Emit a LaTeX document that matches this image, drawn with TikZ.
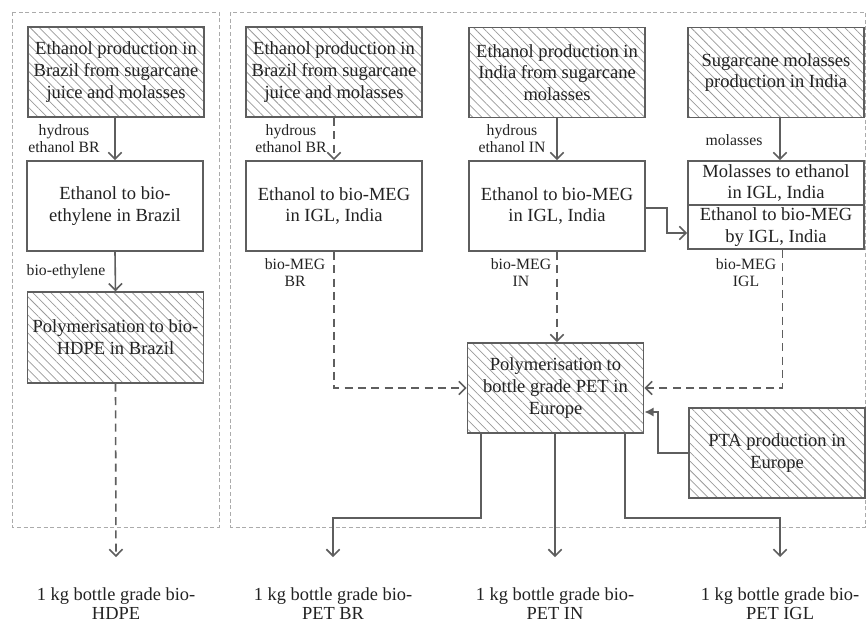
\documentclass[tikz,border=0pt]{standalone}
\usepackage{fontspec}
\setmainfont{Liberation Serif}
\usetikzlibrary{arrows.meta,patterns.meta}
\definecolor{ln}{HTML}{5E5E5E}
\definecolor{hatchc}{HTML}{9A9A9A}
\definecolor{panelc}{HTML}{ABABAB}
\definecolor{txt}{HTML}{222222}
\tikzset{
  boxbase/.style={draw=ln, line width=1.3pt, rectangle, minimum width=132pt, minimum height=67.5pt, inner sep=1pt, align=center, text=txt, font=\fontsize{13.9}{16.3}\selectfont},
  plainbox/.style={boxbase, fill=white},
  hatchbox/.style={boxbase, pattern={Lines[angle=-45,distance=4.8pt,line width=0.55pt]}, pattern color=hatchc},
  halfbox/.style={plainbox, minimum height=33pt},
  lbl/.style={align=center, text=txt, inner sep=0pt, font=\fontsize{11.8}{13}\selectfont},
  outtxt/.style={align=center, text=txt, inner sep=0pt, font=\fontsize{13.8}{14.3}\selectfont},
  panel/.style={draw=panelc, line width=0.6pt, dash pattern=on 3pt off 2pt},
  sline/.style={draw=ln, line width=1.2pt, -{Straight Barb[length=5pt,width=10pt]}},
  dline/.style={sline, dash pattern=on 6pt off 4pt},
  fline/.style={draw=ln, line width=1.2pt, -{Latex[length=7pt,width=7pt]}}
}
\begin{document}
\begin{tikzpicture}[x=0.75pt,y=-0.75pt]
\useasboundingbox (0,0) rectangle (866,622);
% panels
\draw[panel] (12,12) rectangle (219,527);
\draw[panel] (230.5,12) rectangle (865.5,527);
% left column
\node[hatchbox] (A1) at (116,72) {Ethanol production in\\Brazil from sugarcane\\juice and molasses};
\node[plainbox] (A2) at (115,206) {Ethanol to bio-\\ethylene in Brazil};
\node[hatchbox, minimum height=68pt] (A3) at (115.5,337.5) {Polymerisation to bio-\\HDPE in Brazil};
% column B
\node[hatchbox] (B1) at (334,72) {Ethanol production in\\Brazil from sugarcane\\juice and molasses};
\node[plainbox] (B2) at (334,206) {Ethanol to bio-MEG\\in IGL, India};
% column C
\node[hatchbox] (C1) at (557,72.5) {Ethanol production in\\India from sugarcane\\molasses};
\node[plainbox] (C2) at (557,206) {Ethanol to bio-MEG\\in IGL, India};
% column D
\node[hatchbox] (D1) at (776,72.5) {Sugarcane molasses\\production in India};
\node[halfbox] (D2) at (776,183) {Molasses to ethanol\\in IGL, India};
\node[halfbox] (D3) at (776,227) {Ethanol to bio-MEG\\by IGL, India};
% PET and PTA
\node[hatchbox] (P) at (555.5,388) {Polymerisation to\\bottle grade PET in\\Europe};
\node[hatchbox] (T) at (777,453) {PTA production in\\Europe};
% outputs
\node[outtxt] (o1) at (116,603.5) {1 kg bottle grade bio-\\HDPE};
\node[outtxt] (o2) at (333,603.5) {1 kg bottle grade bio-\\PET BR};
\node[outtxt] (o3) at (555,603.5) {1 kg bottle grade bio-\\PET IN};
\node[outtxt] (o4) at (780,603.5) {1 kg bottle grade bio-\\PET IGL};
\coordinate (e1) at (116,557);
\coordinate (e2) at (333,557);
\coordinate (e3) at (555,557);
\coordinate (e4) at (780,557);
% labels
\node[lbl] (l1) at (64,138.5) {hydrous\\ethanol BR};
\node[lbl] (l2) at (291,138.5) {hydrous\\ethanol BR};
\node[lbl] (l3) at (512,138.5) {hydrous\\ethanol IN};
\node[lbl] (l4) at (734,140) {molasses};
\node[lbl] (l5) at (66,272) {bio-ethylene};
\node[lbl] (l6) at (295,272.5) {bio-MEG\\BR};
\node[lbl] (l7) at (521,272.5) {bio-MEG\\IN};
\node[lbl] (l8) at (746,272.5) {bio-MEG\\IGL};
% connectors
\draw[sline] (A1.south -| A2.north) -- (A2.north);
\draw[sline] (A2.south) -- (A3.north);
\draw[dline] (A3.south) -- (e1);
\draw[dline] (B1.south) -- (B2.north);
\draw[sline] (C1.south) -- (C2.north);
\draw[sline] ([xshift=3pt]D1.south) -- ([xshift=3pt]D2.north);
\draw[sline] ([yshift=-1.5pt]C2.east) -- ++(21,0) |- ([yshift=-4.5pt]D3.west);
\draw[dline] (B2.south) |- (P.west);
\draw[dline] (C2.south) -- (C2.south |- P.north);
\draw[dline] ([xshift=5pt]D3.south) |- (P.east);
\draw[fline] (T.west) -- ++(-30,0) |- ([yshift=-18pt]P.east);
\draw[sline] ([xshift=-55.9pt]P.south) |- ++(0,84) -| (e2);
\draw[sline] (P.south -| e3) -- (e3);
\draw[sline] ([xshift=52.1pt]P.south) |- ++(0,84) -| (e4);
\end{tikzpicture}
\end{document}
